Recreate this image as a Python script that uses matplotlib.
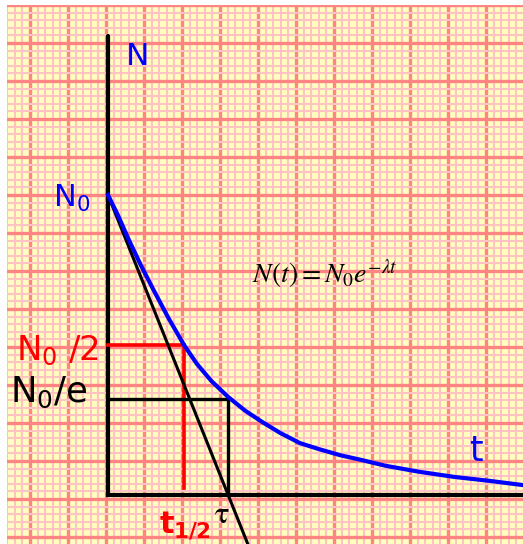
import numpy as np
import matplotlib.pyplot as plt

# radioactive decay sketch: N(t) = N0 e^(-lambda t)
# t in grid squares, N in percent of N0
N0 = 100
N_half = 50
N_e = 32          # the N0/e level as it is drawn
t_half = 2.0
tau = 3.16
N_axis_top = 153
red_stop = 2.3    # red t1/2 line stops just above the axis

curve_t = [0, 0.26, 0.55, 0.86, 1.2, 1.59, 2.0, 2.34, 2.72, 3.16, 3.62, 4.1,
           4.53, 5.05, 5.55, 6.1, 6.66, 7.32, 8.21, 9.13, 10.05, 10.92]
curve_N = [100, 93.3, 85, 76.7, 68.3, 59, 50, 43.7, 38, 32.7, 28, 24,
           20.7, 17.3, 15.3, 13.3, 11.7, 9.7, 7.7, 6, 4.7, 3.3]

tangent_t = [0, 3.7]
tangent_N = [100, -17]

# paper colours
paper = '#FFFFBE'
fine = '#FFC3C3'
bold = '#FF8484'

fig = plt.figure(figsize=(5.23, 5.44), dpi=100)
ax = fig.add_axes([7/523, 0, 516/523, 539/544])
ax.set_facecolor(paper)
for s in ax.spines.values():
    s.set_visible(False)

# graph paper grid (set before the limits, set_xticks widens the view)
gx = (30 - 108) / 38 + np.arange(0, 14)
gy = (495 - 5) / 3 - 38 / 3 * np.arange(0, 15)
ax.set_xticks(gx)
ax.set_yticks(gy)
ax.set_xticks(gx[0] - 1 + np.arange(0, 80) * 0.2, minor=True)
ax.set_yticks(gy[0] - 38 / 3 * np.arange(0, 80) * 0.2, minor=True)
ax.tick_params(which='both', length=0, labelbottom=False, labelleft=False)
ax.grid(which='minor', color=fine, lw=1.5)
ax.grid(which='major', color=bold, lw=2.4)
ax.set_axisbelow(True)

# 38 px per t unit, 3 px per N unit, origin at pixel (108, 495)
ax.set_xlim((7 - 108) / 38, (523 - 108) / 38)
ax.set_ylim((495 - 544) / 3, (495 - 5) / 3)

# axes
ax.plot([0, 0], [0, N_axis_top], color='black', lw=3, solid_capstyle='round')
ax.plot([0, 12], [0, 0], color='black', lw=3)

# half life lines
ax.plot([0, t_half], [N_half, N_half], color='red', lw=2.6)
ax.plot([t_half, t_half], [N_half, red_stop], color='red', lw=2.6)

# mean life box
ax.plot([0, tau], [N_e, N_e], color='black', lw=2.4)
ax.plot([tau, tau], [N_e, 0], color='black', lw=2.4)

ax.plot(tangent_t, tangent_N, color='black', lw=2.2)
ax.plot(curve_t, curve_N, color='blue', lw=3, solid_joinstyle='round')


def px(x, y):
    # pixel position of the reference picture -> data
    return (x - 108) / 38, (495 - y) / 3


font = 'DejaVu Sans'
ax.text(*px(126, 65), 'N', color='blue', fontsize=22.5, family=font, clip_on=True)
ax.text(*px(53, 207), r'N$_\mathregular{0}$', color='blue', fontsize=22, family=font, clip_on=True)
ax.text(*px(16, 360), r'N$_\mathregular{0}$ /2', color='red', fontsize=24.5, family=font, clip_on=True)
ax.text(*px(10, 402), r'N$_\mathregular{0}$/e', color='black', fontsize=25.5, family=font, clip_on=True)
ax.text(*px(159, 532), r't$_\mathregular{1/2}$', color='red', fontsize=22, family=font,
        weight='bold', clip_on=True)
ax.text(*px(214, 523), r'$\mathrm{\tau}$', color='black', fontsize=22, math_fontfamily='stix',
        clip_on=True)
ax.text(*px(469, 461), 't', color='blue', fontsize=25, family=font, clip_on=True)
ax.text(3.79, 70.7, r'$N(t) = N_0 e^{-\lambda t}$', color='black', fontsize=20,
        math_fontfamily='stix', clip_on=True)

fig.savefig('out.png', dpi=100, facecolor='white')
